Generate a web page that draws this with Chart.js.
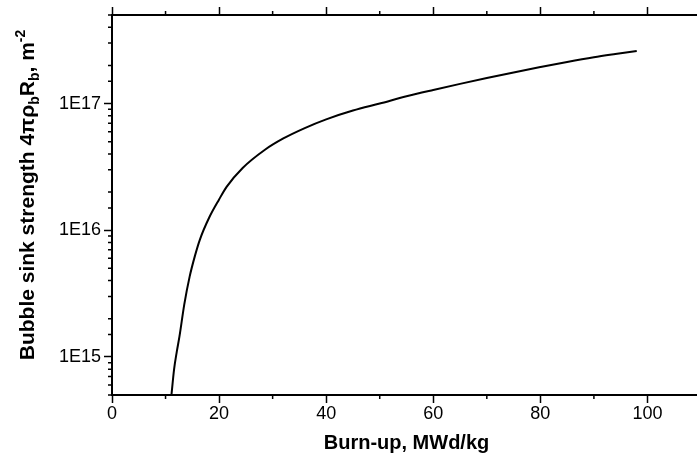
<!DOCTYPE html>
<html>
<head>
<meta charset="utf-8">
<script src="https://cdn.jsdelivr.net/npm/chart.js@4"></script>
<style>
  html, body { margin: 0; padding: 0; background: #fff; overflow: hidden; }
  #wrap { width: 705px; height: 466px; }
</style>
</head>
<body>
<div id="wrap"><canvas id="grafico" width="705" height="466"></canvas></div>
<script>
// Dados
const burnup = [11.1, 11.6, 12.1, 12.6, 13.5, 14.5, 15.5, 16.4, 18.2, 20, 21.4, 24.4, 28.5, 32, 36, 40, 45, 50, 55, 60, 65, 70, 75, 80, 85, 90, 94, 98];
const sinkStrength = [5.0e14, 8.0e14, 1.1e15, 1.45e15, 2.6e15, 4.3e15, 6.3e15, 8.4e15, 1.27e16, 1.75e16, 2.2e16, 3.1e16, 4.3e16, 5.3e16, 6.4e16, 7.5e16, 8.8e16, 1.0e17, 1.14e17, 1.28e17, 1.43e17, 1.59e17, 1.76e17, 1.94e17, 2.13e17, 2.32e17, 2.46e17, 2.6e17];

const xMajor = [0, 20, 40, 60, 80, 100];
const yTickValues = [1e15, 1e16, 1e17];
const yTickLabels = ['1E15', '1E16', '1E17'];

const FONT = "'Liberation Sans', Arial, sans-serif";

function isYMajor(v) {
  return yTickValues.findIndex(t => Math.abs(v / t - 1) < 1e-6);
}

// ticks menores desenhados à parte (Chart.js não tem tickLength por tick)
const minorTicks = {
  id: 'minorTicks',
  afterDraw(chart) {
    const ctx = chart.ctx;
    const a = chart.chartArea;
    ctx.save();
    ctx.strokeStyle = '#000';
    ctx.lineWidth = 1.5;
    ctx.beginPath();
    ['x', 'x2'].forEach(id => {
      const s = chart.scales[id];
      s.ticks.forEach(t => {
        if (xMajor.includes(t.value)) return;
        const px = s.getPixelForValue(t.value);
        if (id === 'x') { ctx.moveTo(px, a.bottom); ctx.lineTo(px, a.bottom + 4); }
        else { ctx.moveTo(px, a.top); ctx.lineTo(px, a.top - 4); }
      });
    });
    const y = chart.scales.y;
    y.ticks.forEach(t => {
      if (isYMajor(t.value) >= 0) return;
      const py = y.getPixelForValue(t.value);
      ctx.moveTo(a.left, py); ctx.lineTo(a.left - 4, py);
    });
    ctx.stroke();
    ctx.restore();
  }
};

// títulos dos eixos com subscritos
const axisTitles = {
  id: 'axisTitles',
  afterDraw(chart) {
    const ctx = chart.ctx;
    const a = chart.chartArea;
    ctx.save();
    ctx.fillStyle = '#000';
    ctx.font = 'bold 20px ' + FONT;
    ctx.textAlign = 'center';
    ctx.textBaseline = 'middle';
    ctx.fillText('Burn-up, MWd/kg', (a.left + a.right) / 2, 443);

    const parts = [
      ['Bubble sink strength 4\u03c0\u03c1', 0],
      ['b', 1],
      ['R', 0],
      ['b', 1],
      [', m', 0],
      ['-2', -1]
    ];
    const big = 'bold 21px ' + FONT;
    const small = 'bold 14px ' + FONT;
    let total = 0;
    parts.forEach(p => { ctx.font = p[1] ? small : big; total += ctx.measureText(p[0]).width; });
    ctx.translate(27, 195);
    ctx.rotate(-Math.PI / 2);
    ctx.textAlign = 'left';
    ctx.textBaseline = 'alphabetic';
    let x = -total / 2;
    parts.forEach(p => {
      ctx.font = p[1] ? small : big;
      const dy = p[1] === 1 ? 5 : (p[1] === -1 ? -9 : 0);
      ctx.fillText(p[0], x, 7 + dy);
      x += ctx.measureText(p[0]).width;
    });
    ctx.restore();
  }
};

const ctx = document.getElementById('grafico').getContext('2d');
new Chart(ctx, {
  type: 'line',
  data: {
    datasets: [{
      data: burnup.map((b, i) => ({ x: b, y: sinkStrength[i] })),
      borderColor: '#000',
      borderWidth: 2,
      pointRadius: 0,
      fill: false,
      cubicInterpolationMode: 'monotone'
    }]
  },
  options: {
    responsive: false,
    animation: false,
    devicePixelRatio: 1,
    layout: { padding: { left: 0, right: 4, top: 0, bottom: 0 } },
    plugins: { legend: { display: false }, tooltip: { enabled: false } },
    scales: {
      x: {
        type: 'linear',
        position: 'bottom',
        min: 0,
        max: 110,
        afterFit: s => { s.height = 71; },
        ticks: {
          stepSize: 10,
          autoSkip: false,
          maxRotation: 0,
          padding: 0,
          color: '#000',
          font: { family: FONT, size: 18 },
          callback: v => xMajor.includes(v) ? String(v) : ''
        },
        grid: {
          drawOnChartArea: false,
          tickLength: 8,
          tickWidth: 1.5,
          tickColor: c => xMajor.includes(c.tick.value) ? '#000' : 'rgba(0,0,0,0)'
        },
        border: { color: '#000', width: 2 }
      },
      x2: {
        type: 'linear',
        position: 'top',
        min: 0,
        max: 110,
        afterFit: s => { s.height = 15; },
        ticks: { stepSize: 10, display: false },
        grid: {
          drawOnChartArea: false,
          tickLength: 8,
          tickWidth: 1.5,
          tickColor: c => xMajor.includes(c.tick.value) ? '#000' : 'rgba(0,0,0,0)'
        },
        border: { color: '#000', width: 2 }
      },
      y: {
        type: 'logarithmic',
        min: 5e14,
        max: 5e17,
        afterFit: s => { s.width = 112; },
        ticks: {
          autoSkip: false,
          padding: 3,
          color: '#000',
          font: { family: FONT, size: 18 },
          callback: v => { const i = isYMajor(v); return i >= 0 ? yTickLabels[i] : ''; }
        },
        grid: {
          drawOnChartArea: false,
          tickLength: 8,
          tickWidth: 1.5,
          tickColor: c => isYMajor(c.tick.value) >= 0 ? '#000' : 'rgba(0,0,0,0)'
        },
        border: { color: '#000', width: 2 }
      }
    }
  },
  plugins: [minorTicks, axisTitles]
});
</script>
</body>
</html>
